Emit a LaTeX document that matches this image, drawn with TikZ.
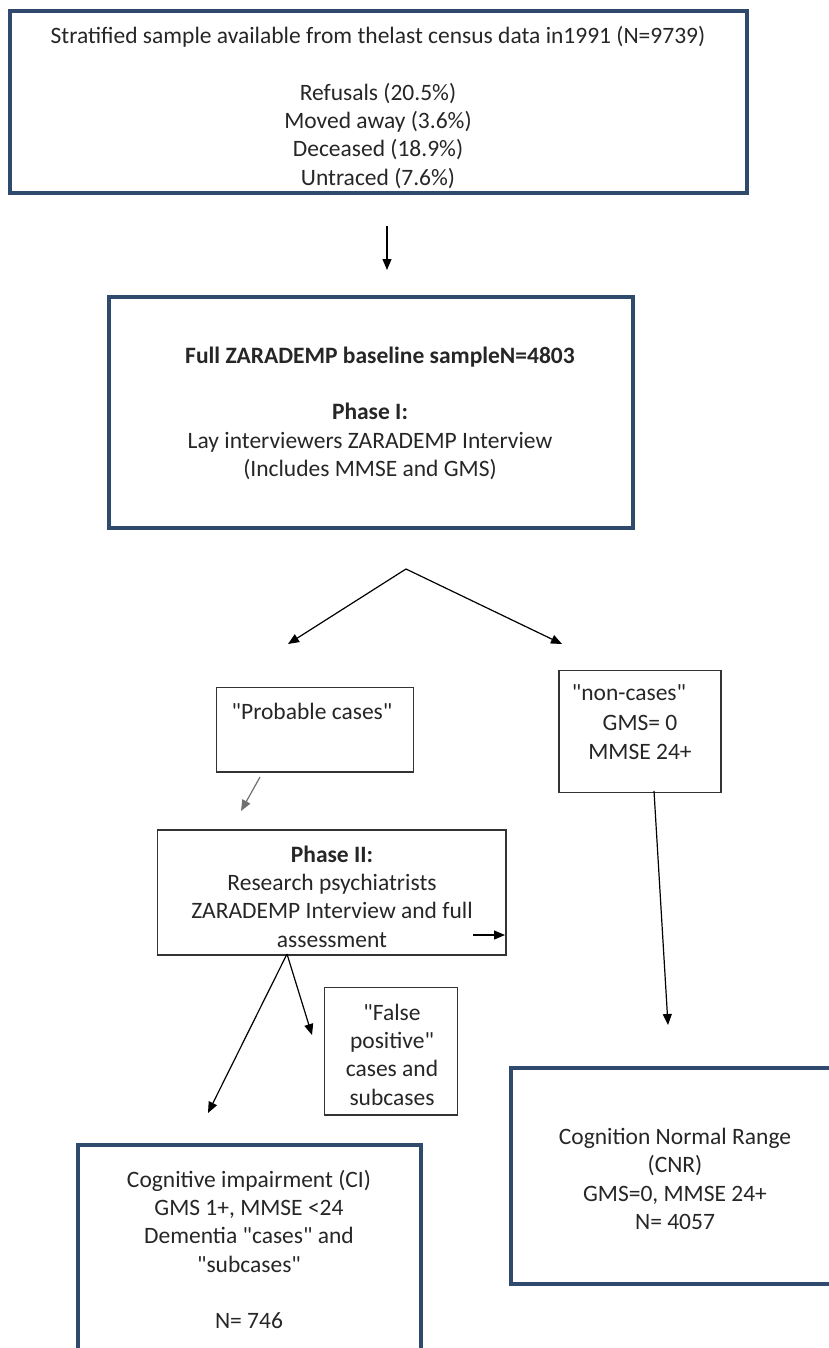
\documentclass[tikz,border=0pt]{standalone}
\usepackage{fontspec}
\setmainfont{Carlito}[Ligatures=TeXOff]
\usetikzlibrary{arrows.meta}
\definecolor{navy}{HTML}{2F4A6D}
\definecolor{txt}{HTML}{262626}
\definecolor{thinc}{HTML}{333333}
\begin{document}
\begin{tikzpicture}[x=1pt,y=-1pt,
  every node/.style={inner sep=0pt, outer sep=0pt},
  navybox/.style={draw=navy, line width=4pt, rectangle},
  thinbox/.style={draw=thinc, line width=1.3pt, rectangle},
  lbl/.style={text=txt, font=\fontsize{23.5}{28.3}\selectfont, align=center},
  arr/.style={draw=black, line width=1.2pt, -{Triangle[length=11pt,width=9pt]}},
]
\useasboundingbox (0,0) rectangle (828,1348);
% boxes
\node[navybox, minimum width=737.1pt, minimum height=181.7pt] (b1) at (378.05,102.15) {};
\node[navybox, minimum width=524.4pt, minimum height=230.7pt] (b2) at (370.8,412.35) {};
\node[thinbox, minimum width=196.6pt, minimum height=84.3pt] (prob) at (315,729.85) {};
\node[thinbox, minimum width=348.5pt, minimum height=125pt] (ph2) at (331.75,892.5) {};
\node[thinbox, minimum width=133.4pt, minimum height=127.3pt] (fp) at (391,1051.35) {};
\node[thinbox, minimum width=162pt, minimum height=122pt] (nc) at (640,731.7) {};
\node[navybox, minimum width=343pt, minimum height=225.3pt] (ci) at (249.2,1257.35) {};
\node[navybox, minimum width=333.7pt, minimum height=216pt] (cnr) at (678.15,1176) {};
% texts
\node[lbl] (t1) at (378,107.5) {Stratified sample available from thelast census data in1991 (N=9739)\\[0pt] \mbox{}\\ Refusals (20.5\%)\\ Moved away (3.6\%)\\ Deceased (18.9\%)\\ Untraced (7.6\%)};
\node[lbl, font=\fontsize{23.5}{28.3}\selectfont\bfseries] (t2a) at (380,357) {Full ZARADEMP baseline sampleN=4803};
\node[lbl] (t2b) at (370,441.5) {\textbf{Phase I:}\\ Lay interviewers ZARADEMP Interview\\ (Includes MMSE and GMS)};
\node[lbl] (tprob) at (312,711) {"Probable cases"};
\node[lbl] (tnc1) at (629,693) {"non-cases"};
\node[lbl] (tnc2) at (640,737.5) {GMS= 0\\ MMSE 24+};
\node[lbl] (tph2) at (332,896.5) {\textbf{Phase II:}\\ Research psychiatrists\\ ZARADEMP Interview and full\\ assessment};
\node[lbl] (tfp) at (392,1054.5) {"False\\ positive"\\ cases and\\ subcases};
\node[lbl] (tci) at (249,1249.5) {Cognitive impairment (CI)\\ GMS 1+, MMSE <24\\ Dementia "cases" and\\ "subcases"\\ \mbox{}\\ N= 746};
\node[lbl] (tcnr) at (675,1179) {Cognition Normal Range\\ (CNR)\\ GMS=0, MMSE 24+\\ N= 4057};
% connector endpoints
\coordinate (a1s) at (387,226);
\coordinate (a1e) at (387,270);
\coordinate (apex) at (406,569);
\coordinate (tipl) at (288,644);
\coordinate (tipr) at (562,644);
\coordinate (ps) at (260,777);
\coordinate (pe) at (241,811);
\coordinate (is) at (473,935);
\coordinate (ie) at (505,935);
\coordinate (o2) at (287,954);
\coordinate (cil) at (208,1113);
\coordinate (fpt) at (312,1035);
\coordinate (ncs) at (654,791);
\coordinate (nce) at (668,1025);
% connectors
\draw[arr] (a1s) -- (a1e);
\draw[arr] (apex) -- (tipl);
\draw[arr] (apex) -- (tipr);
\draw[arr, draw=thinc!70] (ps) -- (pe);
\draw[arr] (is) -- (ie);
\draw[arr] (o2) -- (cil);
\draw[arr] (o2) -- (fpt);
\draw[arr] (ncs) -- (nce);
\end{tikzpicture}
\end{document}
